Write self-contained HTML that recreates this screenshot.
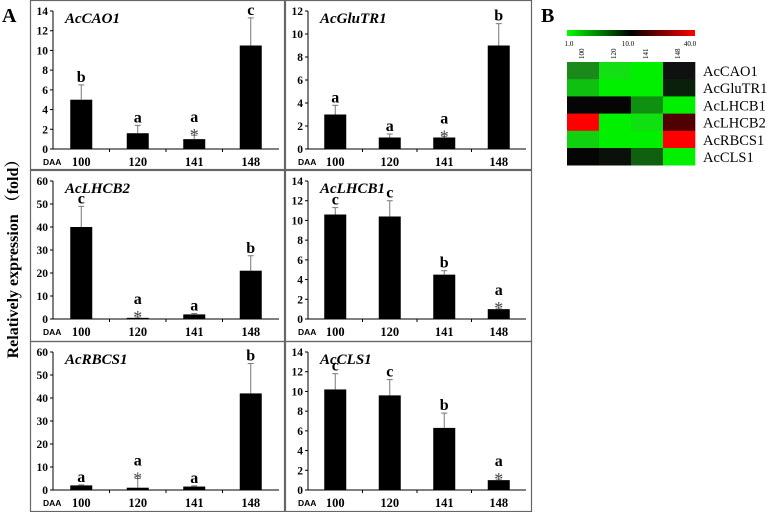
<!DOCTYPE html>
<html><head><meta charset="utf-8"><style>
body{margin:0;background:#fff;}
svg{display:block;font-family:"Liberation Serif","Noto Serif CJK SC",serif;}
</style></head><body>
<svg id="c" width="771" height="512" viewBox="0 0 771 512"></svg>
<script>
const categories=["100","120","141","148"];
const genes=["AcCAO1","AcGluTR1","AcLHCB2","AcLHCB1","AcRBCS1","AcCLS1"];
const vCAO1=[5,1.6,1,10.5], eCAO1=[6.5,2.4,1.4,13.3], lCAO1=["b","a","a*","c"];
const vGluTR1=[3,1,1,9], eGluTR1=[3.8,1.3,1.1,10.9], lGluTR1=["a","a","a*","b"];
const vLHCB2=[40,0.5,2,21], eLHCB2=[49,0.9,2.4,27.5], lLHCB2=["c","a*","a","b"];
const vLHCB1=[10.6,10.4,4.5,1], eLHCB1=[11.3,12,4.9,1.1], lLHCB1=["c","c","b","a*"];
const vRBCS1=[2,1,1.5,42], eRBCS1=[2.2,5,1.8,55], lRBCS1=["a","a*","a","b"];
const vCLS1=[10.2,9.6,6.3,1], eCLS1=[11.8,11.2,7.8,1.1], lCLS1=["c","c","b","a*"];
const yMax=[14,12,60,14,60,14], yStep=[2,2,10,2,10,2];
const heatRows=["AcCAO1","AcGluTR1","AcLHCB1","AcLHCB2","AcRBCS1","AcCLS1"];
const heatColors=[
["#1a8a1a","#12e012","#00f000","#101010"],
["#10c010","#00f000","#00f000","#0a200a"],
["#050505","#050505","#109010","#00f000"],
["#ff0000","#00f000","#10e010","#500000"],
["#10d010","#00f000","#00f000","#ff0000"],
["#050505","#0a100a","#106010","#00f000"]];
const colorbarTicks=["1.0","10.0","40.0"];

const svg=document.getElementById('c');
const NS="http://www.w3.org/2000/svg";
function mk(tag,attrs,parent,text){const e=document.createElementNS(NS,tag);for(const k in attrs)e.setAttribute(k,attrs[k]);if(text!==undefined)e.textContent=text;(parent||svg).appendChild(e);return e;}

const vals=[vCAO1,vGluTR1,vLHCB2,vLHCB1,vRBCS1,vCLS1];
const errs=[eCAO1,eGluTR1,eLHCB2,eLHCB1,eRBCS1,eCLS1];
const labs=[lCAO1,lGluTR1,lLHCB2,lLHCB1,lRBCS1,lCLS1];
const panels=[[30,0,254,169],[285,0,246,169],[30,170,254,171],[285,170,246,171],[30,341,254,170],[285,341,246,170]];

genes.forEach((g,i)=>{
  const [px,py,pw,ph]=panels[i];
  const grp=mk('g',{},svg);
  
  
  mk('rect',{x:px+0.5,y:py+0.5,width:pw,height:ph,fill:'none',stroke:'#666','stroke-width':1.2},grp);
  const ax=px+23, x1=px+pw-5;
  const yTop=py+11, y0=py+149;
  const ys=v=>y0-(v/yMax[i])*(y0-yTop);
  const xs=k=>ax+(k+0.5)*(x1-ax)/4;
  mk('line',{x1:ax,y1:yTop,x2:ax,y2:y0,stroke:'#000','stroke-width':1},grp);
  mk('line',{x1:ax,y1:y0,x2:x1,y2:y0,stroke:'#000','stroke-width':1},grp);
  for(let t=0;t<=yMax[i];t+=yStep[i]){
    mk('line',{x1:ax-3,y1:ys(t),x2:ax,y2:ys(t),stroke:'#000'},grp);
    const tl=mk('text',{x:ax-5,y:ys(t)+4,'font-size':11.5,'font-weight':'bold','text-anchor':'end'},grp,String(t));
    
    
  }
  for(let k=1;k<4;k++){const tx=ax+k*(x1-ax)/4;mk('line',{x1:tx,y1:y0,x2:tx,y2:y0+3,stroke:'#000'},grp);}
  const tt=mk('text',{x:ax+12,y:py+23,'font-size':15,'font-weight':'bold','font-style':'italic'},grp,g);
  
  
  mk('text',{x:px+13,y:py+165,'font-size':8.5,'font-weight':'bold','font-family':'Liberation Sans, sans-serif'},grp,'DAA');
  categories.forEach((c,k)=>{
    const cx=xs(k);
    const cl=mk('text',{x:cx,y:py+166,'font-size':12.5,'font-weight':'bold','text-anchor':'middle'},grp,c);
    
    
    const b=mk('rect',{x:cx-11,y:ys(vals[i][k]),width:22,height:y0-ys(vals[i][k]),fill:'#000'},grp);
    
    
    const ey=ys(errs[i][k]);
    mk('line',{x1:cx,y1:ey,x2:cx,y2:ys(vals[i][k]),stroke:'#777','stroke-width':1},grp);
    mk('line',{x1:cx-3,y1:ey,x2:cx+3,y2:ey,stroke:'#777','stroke-width':1},grp);
    const l=labs[i][k];
    const star=l.indexOf('*')>=0;
    let base=ey-3;
    if(star){mk('text',{x:cx,y:base+9,'font-size':18,'text-anchor':'middle','fill':'#444'},grp,'*');base-=10;}
    const lt=mk('text',{x:cx,y:base,'font-size':16,'font-weight':'bold','text-anchor':'middle'},grp,l.replace('*',''));
    
    
  });
});

const A=mk('text',{x:2,y:22,'font-size':20,'font-weight':'bold'},svg,'A');

const yt=mk('text',{x:0,y:0,'font-size':16,'font-weight':'bold','text-anchor':'middle',transform:'translate(18,255) rotate(-90)'},svg,'Relatively expression （fold）');

const B=mk('text',{x:541,y:22,'font-size':20,'font-weight':'bold'},svg,'B');


const defs=mk('defs',{},svg);
const gr=mk('linearGradient',{id:'cb',x1:0,x2:1,y1:0,y2:0},defs);
mk('stop',{offset:'0','stop-color':'#00ff00'},gr);
mk('stop',{offset:'0.5','stop-color':'#000'},gr);
mk('stop',{offset:'1','stop-color':'#ff0000'},gr);
const cb=mk('rect',{x:567,y:30,width:128,height:6,fill:'url(#cb)'},svg);

const cbx=[569,628,690];
colorbarTicks.forEach((t,k)=>{mk('text',{x:cbx[k],y:46,'font-size':7,'text-anchor':'middle'},svg,t);});
const hx=567,hy=62,cw=32,rh=17.2;
categories.forEach((c,k)=>{
  const t=mk('text',{x:0,y:0,'font-size':7,transform:`translate(${hx+k*cw+17},59) rotate(-90)`},svg,c);
  
});
heatRows.forEach((g,r)=>{
  heatColors[r].forEach((col,k)=>{
    const cell=mk('rect',{x:hx+k*cw,y:hy+r*rh,width:cw+0.3,height:rh+0.3,fill:col},svg);
    
  });
  const t=mk('text',{x:703,y:hy+r*rh+14,'font-size':14.5},svg,g);
  
});
</script>
</body></html>
